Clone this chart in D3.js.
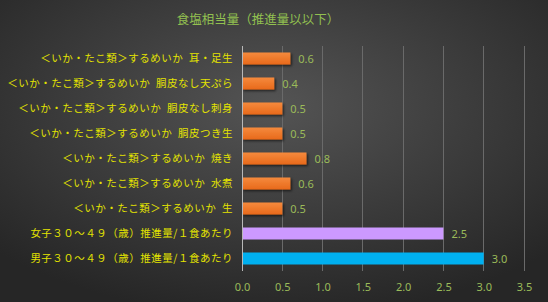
<!DOCTYPE html>
<html><head><meta charset="utf-8">
<script src="https://cdn.jsdelivr.net/npm/d3@7"></script>
<style>html,body{margin:0;padding:0;background:#333;}svg{display:block;}</style>
</head><body>
<svg id="chart" width="548" height="302"></svg>
<script>
const title = "食塩相当量（推進量以以下）";
const categories = [
  "＜いか・たこ類＞するめいか  耳・足生",
  "＜いか・たこ類＞するめいか  胴皮なし天ぷら",
  "＜いか・たこ類＞するめいか  胴皮なし刺身",
  "＜いか・たこ類＞するめいか  胴皮つき生",
  "＜いか・たこ類＞するめいか  焼き",
  "＜いか・たこ類＞するめいか  水煮",
  "＜いか・たこ類＞するめいか  生",
  "女子３０～４９（歳）推進量/１食あたり",
  "男子３０～４９（歳）推進量/１食あたり"
];
const values = [0.6, 0.4, 0.5, 0.5, 0.8, 0.6, 0.5, 2.5, 3.0];
const barKinds = ["food","food","food","food","food","food","food","female","male"];
const tickValues = [0, 0.5, 1.0, 1.5, 2.0, 2.5, 3.0, 3.5];

const W = 548, H = 302;
const svg = d3.select("#chart");
const defs = svg.append("defs");
const bg = defs.append("radialGradient").attr("id","bg").attr("cx","50%").attr("cy","35%").attr("r","70%");
bg.append("stop").attr("offset","0%").attr("stop-color","#545454");
bg.append("stop").attr("offset","100%").attr("stop-color","#262626");
const og = defs.append("linearGradient").attr("id","og").attr("x1",0).attr("y1",0).attr("x2",0).attr("y2",1);
og.append("stop").attr("offset","0%").attr("stop-color","#F58A3C");
og.append("stop").attr("offset","100%").attr("stop-color","#E8691C");
const sh = defs.append("filter").attr("id","sh").attr("x","-10%").attr("y","-30%").attr("width","130%").attr("height","190%");
sh.append("feDropShadow").attr("dx",1.5).attr("dy",1.5).attr("stdDeviation",1).attr("flood-color","#000").attr("flood-opacity",0.6);

svg.append("rect").attr("width",W).attr("height",H).attr("fill","url(#bg)");

const x = d3.scaleLinear().domain([0,3.5]).range([242,524]);
const y = d3.scaleBand().domain(categories).range([46,271]).paddingInner(0.52).paddingOuter(0.26);

// grid
svg.append("g").selectAll("line").data(tickValues.slice(1)).join("line")
  .attr("x1",d=>x(d)).attr("x2",d=>x(d)).attr("y1",46).attr("y2",271)
  .attr("stroke","#6a6a6a").attr("stroke-width",1).attr("shape-rendering","crispEdges");

svg.append("text").attr("x",258).attr("y",24).attr("text-anchor","middle")
  .attr("font-family","'Noto Sans CJK JP', sans-serif").attr("font-size",12.5).attr("fill","#92C050").text(title);

const fill = k => k==="food" ? "url(#og)" : k==="female" ? "#CC99FF" : "#00B0F0";
svg.append("g").selectAll("rect").data(values).join("rect")
  .attr("x",x(0)).attr("y",(d,i)=>y(categories[i]))
  .attr("width",d=>x(d)-x(0)).attr("height",y.bandwidth())
  .attr("fill",(d,i)=>fill(barKinds[i]))
  .attr("filter",(d,i)=>barKinds[i]==="food"?"url(#sh)":null);

// axis line
svg.append("line").attr("x1",x(0)).attr("x2",x(0)).attr("y1",46).attr("y2",271)
  .attr("stroke","#b8b8b8").attr("stroke-width",1).attr("shape-rendering","crispEdges");

// value labels
svg.append("g").selectAll("text").data(values).join("text")
  .attr("x",d=>x(d)+8).attr("y",(d,i)=>y(categories[i])+y.bandwidth()/2+4)
  .attr("font-family","'Noto Sans', sans-serif").attr("font-size",11).attr("fill","#9BBB59")
  .text(d=>d.toFixed(1));

// category labels
const yAxis = d3.axisLeft(y).tickSize(0).tickPadding(9);
const ga = svg.append("g").attr("transform",`translate(${x(0)},0)`).call(yAxis);
ga.select(".domain").remove();
ga.selectAll("text").attr("font-family","'Noto Sans CJK JP', sans-serif").attr("font-size",10.5)
  .attr("letter-spacing","0.5px").attr("fill","#E3E300").style("white-space","pre");

// x axis
const xAxis = d3.axisBottom(x).tickValues(tickValues).tickSize(0).tickPadding(0).tickFormat(d3.format(".1f"));
const gx = svg.append("g").attr("transform","translate(0,283)").call(xAxis);
gx.select(".domain").remove();
gx.selectAll("text").attr("font-family","'Noto Sans', sans-serif").attr("font-size",11).attr("fill","#9BBB59");
</script>
</body></html>
